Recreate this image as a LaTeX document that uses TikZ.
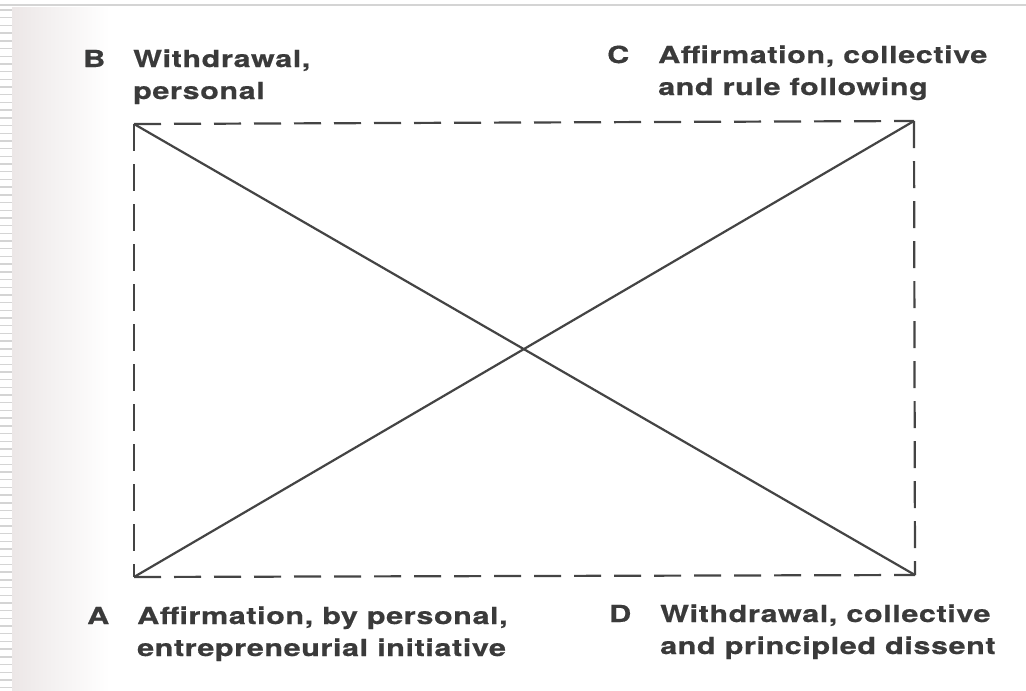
\documentclass[tikz,border=0pt]{standalone}
\usepackage{fontspec}
\newfontfamily\labfont[FakeStretch=1.3,LetterSpace=2.5,FakeBold=0.6]{TeX Gyre Heros}
\definecolor{ink}{HTML}{3A3A3A}
\definecolor{lineink}{HTML}{444444}
\definecolor{edgegrey}{HTML}{D4D4D4}
\definecolor{pageshade}{HTML}{ECE7E7}
\begin{document}
\begin{tikzpicture}[x=1pt,y=-1pt,
  lab/.style={anchor=base west,inner sep=0pt,align=left,text=ink,
    font=\labfont\bfseries\fontsize{23.5}{32}\selectfont},
  frame/.style={draw=lineink,line width=2.2pt,dash pattern=on 27pt off 13pt},
  diag/.style={draw=lineink,line width=2.2pt}]
\useasboundingbox (0,0) rectangle (1026,691);
% page background
\fill[white] (0,0) rectangle (1026,691);
\shade[left color=pageshade,right color=white] (12,7) rectangle (110,691);
% binding stripes on the left edge
\foreach \k in {0,...,88} {
  \draw[edgegrey,line width=1.4pt] (0,{10+7.7*\k}) -- (12,{10+7.7*\k});
}
\draw[edgegrey,line width=1.5pt] (0,5) -- (1026,5);
% corners
\coordinate (B) at (134,124);
\coordinate (C) at (914,121);
\coordinate (A) at (134,577);
\coordinate (D) at (915,575);
% dashed frame
\draw[frame] (B) -- (C);
\draw[frame] (C) -- (D);
\draw[frame] (A) -- (D);
\draw[frame] (B) -- (A);
% diagonals
\draw[diag] (B) -- (D);
\draw[diag] (A) -- (C);
% labels (base anchor = baseline of the last line)
\node[lab] (lB) at (83,67) {B};
\node[lab] (tB) at (133,99) {Withdrawal,\\personal};
\node[lab] (lC) at (607,63) {C};
\node[lab] (tC) at (658,95) {Affirmation, collective\\and rule following};
\node[lab] (lA) at (87,624) {A};
\node[lab] (tA) at (137,656) {Affirmation, by personal,\\entrepreneurial initiative};
\node[lab] (lD) at (609,622) {D};
\node[lab] (tD) at (660,654) {Withdrawal, collective\\and principled dissent};
\end{tikzpicture}
\end{document}
